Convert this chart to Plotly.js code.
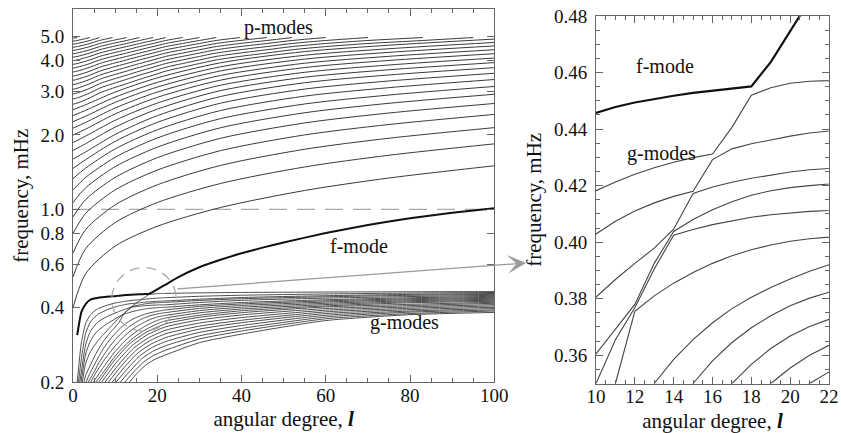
<!DOCTYPE html>
<html>
<head>
<meta charset="utf-8">
<script src="https://cdn.plot.ly/plotly-3.0.1.min.js"></script>
<style>html,body{margin:0;padding:0;background:#fff;}#chart{width:841px;height:433px;}</style>
</head>
<body>
<div id="chart"></div>
<script>
// ---------- p-modes that reach l = 100 (lowest order first) ----------
const pDeg = [0, 3, 10, 20, 35, 55, 75, 100];
const pFreqFull = [
  [0.400,0.549,0.710,0.854,1.017,1.192,1.339,1.500],
  [0.533,0.693,0.884,1.065,1.272,1.484,1.655,1.840],
  [0.666,0.828,1.042,1.256,1.505,1.750,1.939,2.140],
  [0.799,0.963,1.198,1.441,1.727,2.000,2.203,2.420],
  [0.932,1.095,1.346,1.617,1.937,2.236,2.452,2.680],
  [1.065,1.222,1.488,1.784,2.137,2.458,2.684,2.920],
  [1.198,1.346,1.623,1.943,2.326,2.667,2.899,3.140],
  [1.331,1.468,1.755,2.097,2.509,2.869,3.105,3.350],
  [1.464,1.588,1.883,2.247,2.687,3.064,3.304,3.550],
  [1.597,1.706,2.008,2.392,2.859,3.251,3.494,3.740],
  [1.730,1.842,2.150,2.542,3.020,3.421,3.668,3.920],
  [1.863,1.977,2.291,2.689,3.175,3.582,3.834,4.090],
  [1.996,2.111,2.431,2.836,3.329,3.744,4.000,4.260],
  [2.129,2.246,2.569,2.979,3.478,3.898,4.157,4.420],
  [2.262,2.380,2.707,3.122,3.627,4.051,4.313,4.580],
  [2.395,2.514,2.843,3.261,3.770,4.198,4.461,4.730],
  [2.528,2.648,2.980,3.401,3.913,4.344,4.610,4.880]
];
// ---------- p-modes that stop at the cut-off (~5 mHz) ----------
const pEndDeg = [0, 1, 4, 6.3, 9.4, 12.7, 15.8, 19, 22, 26, 30, 34, 39.6, 46, 52, 60, 70, 83, 95];
const pFreqEnd = [
  [4.922,4.950],
  [4.789,4.817,4.950],
  [4.656,4.684,4.817,4.950],
  [4.523,4.551,4.684,4.817,4.950],
  [4.390,4.418,4.551,4.684,4.817,4.950],
  [4.257,4.285,4.418,4.551,4.684,4.817,4.950],
  [4.124,4.152,4.285,4.418,4.551,4.684,4.817,4.950],
  [3.991,4.019,4.152,4.285,4.418,4.551,4.684,4.817,4.950],
  [3.858,3.886,4.019,4.152,4.285,4.418,4.551,4.684,4.817,4.950],
  [3.725,3.753,3.886,4.019,4.152,4.285,4.418,4.551,4.684,4.817,4.950],
  [3.592,3.620,3.753,3.886,4.019,4.152,4.285,4.418,4.551,4.684,4.817,4.950],
  [3.459,3.487,3.620,3.753,3.886,4.019,4.152,4.285,4.418,4.551,4.684,4.817,4.950],
  [3.326,3.354,3.487,3.620,3.753,3.886,4.019,4.152,4.285,4.418,4.551,4.684,4.817,4.950],
  [3.193,3.221,3.354,3.487,3.620,3.753,3.886,4.019,4.152,4.285,4.418,4.551,4.684,4.817,4.950],
  [3.060,3.088,3.221,3.354,3.487,3.620,3.753,3.886,4.019,4.152,4.285,4.418,4.551,4.684,4.817,4.950],
  [2.927,2.955,3.088,3.221,3.354,3.487,3.620,3.753,3.886,4.019,4.152,4.285,4.418,4.551,4.684,4.817,4.950],
  [2.794,2.822,2.955,3.088,3.221,3.354,3.487,3.620,3.753,3.886,4.019,4.152,4.285,4.418,4.551,4.684,4.817,4.950],
  [2.661,2.689,2.822,2.955,3.088,3.221,3.354,3.487,3.620,3.753,3.886,4.019,4.152,4.285,4.418,4.551,4.684,4.817,4.950]
];
// ---------- f-mode (thick line) ----------
const fDeg  = [1,2,3,4,5,6,7,8,9,10,11,12,13,14,15,16,17,18,19,20,21,22,25,30,35,40,45,50,60,70,80,90,100];
const fFreq = [0.310,0.385,0.414,0.430,0.436,0.439,0.441,0.443,0.4445,0.4457,0.4478,0.4494,0.4507,0.4518,0.4528,0.4536,0.4543,0.4551,0.4637,0.4745,0.4855,0.4965,0.532,0.583,0.625,0.664,0.700,0.735,0.802,0.864,0.921,0.968,1.010];
// ---------- g-modes (top to bottom) ----------
const gDeg = [
  [1.0,2,3,4,5,6,8,10,11,12,13,14,15,16,17,18,19,20,21,22,30,40,60,80,100],
  [1.3,2,3,4,5,6,8,10,11,12,13,14,15,16,17,18,19,20,21,22,30,40,60,80,100],
  [1.6,2,3,4,5,6,8,10,11,12,13,14,15,16,17,18,19,20,21,22,30,40,60,80,100],
  [1.9,3,4,5,6,8,10,11,12,13,14,15,16,17,18,19,20,21,22,30,40,60,80,100],
  [2.2,3,4,5,6,7,8,9,10,11,12,13,14,15,16,17,18,19,20,21,22,30,40,60,80,100],
  [2.6,3,4,5,6,7,8,9,10,11,12,13,14,15,16,17,18,19,20,21,22,30,40,60,80,100],
  [3.1,4,5,6,7,8,9,10,11,12,13,14,15,16,17,18,19,20,21,22,30,40,60,80,100],
  [3.6,5,6,7,8,9,10,11,12,13,14,15,16,17,18,19,20,21,22,30,40,60,80,100],
  [4.2,5,6,7,8,9,10,11,12,13,14,15,16,17,18,19,20,21,22,30,40,60,80,100],
  [4.8,6,7,8,9,10,11,12,13,14,15,16,17,18,19,20,21,22,30,40,60,80,100],
  [5.4,7,8,10,12,14,16,18,20,21,22,30,40,60,80,100],
  [6.1,9.7,13.5,17.4,22,30,40,60,80,100],
  [6.8,10.3,14.0,17.6,22,30,40,60,80,100],
  [7.6,11.0,14.4,17.9,22,30,40,60,80,100],
  [8.4,11.6,14.9,18.1,22,30,40,60,80,100],
  [9.3,12.3,15.3,18.4,22,30,40,60,80,100],
  [10.2,13.0,15.8,18.6,22,30,40,60,80,100],
  [11.2,13.8,16.3,18.9,22,30,40,60,80,100],
  [12.3,14.5,16.8,19.2,22,30,40,60,80,100],
  [13.4,15.2,17.3,19.45,22,30,40,60,80,100]
];
const gFreq = [
  [0.200,0.290,0.345,0.372,0.387,0.397,0.409,0.4182,0.4213,0.4240,0.4263,0.4283,0.4299,0.4312,0.4406,0.4520,0.4546,0.4562,0.4569,0.4573,0.4595,0.4612,0.4630,0.4642,0.4650],
  [0.200,0.250,0.315,0.347,0.365,0.377,0.392,0.4029,0.4074,0.4110,0.4139,0.4162,0.4180,0.4292,0.4330,0.4348,0.4362,0.4375,0.4386,0.4394,0.4450,0.4495,0.4548,0.4585,0.4610],
  [0.200,0.222,0.283,0.318,0.337,0.351,0.368,0.3806,0.3868,0.3925,0.3979,0.4046,0.4172,0.4195,0.4212,0.4226,0.4238,0.4248,0.4256,0.4262,0.4330,0.4400,0.4475,0.4530,0.4570],
  [0.200,0.260,0.290,0.310,0.324,0.344,0.3605,0.3692,0.3780,0.3925,0.4038,0.4080,0.4115,0.4143,0.4166,0.4182,0.4193,0.4200,0.4206,0.4280,0.4350,0.4430,0.4490,0.4530],
  [0.200,0.238,0.263,0.280,0.295,0.309,0.322,0.336,0.350,0.3655,0.3768,0.3905,0.4025,0.4045,0.4062,0.4076,0.4088,0.4097,0.4104,0.4109,0.4112,0.4200,0.4285,0.4375,0.4440,0.4490],
  [0.200,0.213,0.232,0.252,0.271,0.289,0.305,0.320,0.334,0.350,0.3755,0.3810,0.3855,0.3893,0.3925,0.3952,0.3973,0.3990,0.4003,0.4012,0.4018,0.4110,0.4200,0.4310,0.4390,0.4450],
  [0.200,0.217,0.234,0.252,0.270,0.286,0.301,0.315,0.328,0.3395,0.350,0.3585,0.3655,0.3715,0.3765,0.3805,0.3840,0.3870,0.3897,0.3920,0.4050,0.4145,0.4265,0.4350,0.4410],
  [0.200,0.220,0.237,0.253,0.268,0.283,0.297,0.310,0.3215,0.332,0.3415,0.350,0.358,0.3645,0.3697,0.3740,0.3775,0.3802,0.3823,0.3975,0.4085,0.4220,0.4310,0.4370],
  [0.200,0.212,0.226,0.240,0.254,0.267,0.280,0.293,0.305,0.316,0.326,0.335,0.3428,0.350,0.3568,0.3624,0.3668,0.3702,0.3727,0.3895,0.4020,0.4170,0.4270,0.4330],
  [0.200,0.214,0.227,0.240,0.253,0.266,0.278,0.290,0.301,0.311,0.320,0.328,0.336,0.343,0.350,0.3555,0.3600,0.3635,0.3815,0.3955,0.4120,0.4230,0.4290],
  [0.200,0.217,0.229,0.255,0.278,0.299,0.317,0.3315,0.3445,0.350,0.3541,0.3730,0.3890,0.4070,0.4190,0.4250],
  [0.200,0.2434,0.2867,0.3185,0.3445,0.366,0.382,0.403,0.413,0.421],
  [0.200,0.2405,0.281,0.3107,0.335,0.357,0.374,0.397,0.408,0.417],
  [0.200,0.2374,0.2747,0.3021,0.3245,0.347,0.365,0.391,0.403,0.412],
  [0.200,0.2342,0.2684,0.2935,0.314,0.337,0.356,0.385,0.398,0.407],
  [0.200,0.2309,0.2618,0.2845,0.303,0.328,0.348,0.379,0.393,0.402],
  [0.200,0.2276,0.2552,0.2754,0.292,0.318,0.339,0.373,0.388,0.397],
  [0.200,0.2243,0.2486,0.2664,0.281,0.308,0.330,0.367,0.384,0.392],
  [0.200,0.2209,0.2417,0.257,0.2695,0.299,0.322,0.361,0.379,0.388],
  [0.200,0.2174,0.2348,0.2476,0.258,0.289,0.313,0.355,0.375,0.383]
];
// reference line at 1 mHz
const refDeg = [0, 100];
const refFreq = [1.0, 1.0];
// axis ticks
const leftTickVals = [0.2, 0.4, 0.6, 0.8, 1, 2, 3, 4, 5];
const leftTickText = ['0.2','0.4','0.6','0.8','1.0','2.0','3.0','4.0','5.0'];

const FONT = 'Liberation Serif, "Times New Roman", Times, serif';
const THIN = '#3a3a3a';
const traces = [];

traces.push({x: refDeg, y: refFreq, xaxis:'x', yaxis:'y', mode:'lines',
  line:{color:'#aaaaaa', width:1.3, dash:'18px,10px'}, hoverinfo:'skip'});

pFreqFull.forEach(row => traces.push({x: pDeg, y: row, xaxis:'x', yaxis:'y', mode:'lines',
  line:{color:THIN, width:1, shape:'spline', smoothing:0.8}, hoverinfo:'skip'}));
pFreqEnd.forEach(row => traces.push({x: pEndDeg.slice(0, row.length), y: row, xaxis:'x', yaxis:'y', mode:'lines',
  line:{color:THIN, width:1, shape:'spline', smoothing:0.8}, hoverinfo:'skip'}));

gDeg.forEach((l, i) => {
  traces.push({x: l, y: gFreq[i], xaxis:'x', yaxis:'y', mode:'lines',
    line:{color:THIN, width:0.9, shape:'spline', smoothing:0.6}, hoverinfo:'skip'});
  traces.push({x: l, y: gFreq[i], xaxis:'x2', yaxis:'y2', mode:'lines',
    line:{color:'#444', width:1.1}, hoverinfo:'skip'});
});
traces.push({x: fDeg, y: fFreq, xaxis:'x', yaxis:'y', mode:'lines',
  line:{color:'#111', width:2, shape:'spline', smoothing:0.5}, hoverinfo:'skip'});
traces.push({x: fDeg, y: fFreq, xaxis:'x2', yaxis:'y2', mode:'lines',
  line:{color:'#111', width:2.2}, hoverinfo:'skip'});

const AX = '#666';
const common = {
  ticks:'inside', ticklen:7, tickwidth:1, tickcolor:AX,
  showline:true, linecolor:AX, linewidth:1, mirror:'ticks',
  showgrid:false, zeroline:false, automargin:false,
  tickfont:{family:FONT, size:19, color:'#111'}
};
const titleFont = {family:FONT, size:21, color:'#111'};

// plot area in pixels: x 73..829, y 9..384
const W = 756, H = 375, L0 = 73, T0 = 9;
const px = v => (v - L0) / W;
const py = v => (T0 + H - v) / H;
const label = (x, y, text) => ({xref:'paper', yref:'paper', x:px(x), y:py(y), text:text,
  xanchor:'center', yanchor:'middle', showarrow:false, font:{family:FONT, size:20, color:'#111'}});

const layout = {
  width:841, height:433,
  margin:{l:73, r:12, t:9, b:49, pad:0},
  paper_bgcolor:'#fff', plot_bgcolor:'#fff',
  showlegend:false, hovermode:false,
  font:{family:FONT, size:19, color:'#111'},
  xaxis: Object.assign({}, common, {
    domain:[0, 0.5573], range:[0,100], tick0:0, dtick:20, anchor:'y',
    ticklabelstandoff:-4,
    minor:{dtick:5, ticks:'inside', ticklen:4, tickcolor:AX, showgrid:false},
    title:{text:'angular degree, <b><i>l</i></b>', font:titleFont, standoff:6}
  }),
  yaxis: Object.assign({}, common, {
    domain:[0.0048, 0.9992], type:'log', range:[Math.log10(0.2), Math.log10(6.44)],
    tickmode:'array', tickvals:leftTickVals, ticktext:leftTickText, anchor:'x',
    ticklabelstandoff:4,
    title:{text:'frequency, mHz', font:titleFont, standoff:6}
  }),
  xaxis2: Object.assign({}, common, {
    domain:[0.6918, 1], range:[10,22], tick0:10, dtick:2, anchor:'y2',
    ticklabelstandoff:-4,
    minor:{dtick:0.5, ticks:'inside', ticklen:4, tickcolor:AX, showgrid:false},
    title:{text:'angular degree, <b><i>l</i></b>', font:titleFont, standoff:6}
  }),
  yaxis2: Object.assign({}, common, {
    domain:[0.0013, 0.9813], range:[0.35,0.48], tick0:0.36, dtick:0.02, tickformat:'.2f', anchor:'x2',
    minor:{dtick:0.005, ticks:'inside', ticklen:4, tickcolor:AX, showgrid:false},
    ticklabelstandoff:4,
    title:{text:'frequency, mHz', font:titleFont, standoff:6}
  }),
  shapes:[
    {type:'circle', xref:'x', yref:'y', x0:9.2, x1:24.5, y0:0.322, y1:0.582,
     line:{color:'#aaaaaa', width:1.3, dash:'10px,7px'}}
  ],
  annotations:[
    label(278, 27, 'p-modes'),
    label(359, 246, 'f-mode'),
    label(404, 322, 'g-modes'),
    label(665, 66, 'f-mode'),
    label(661, 153, 'g-modes'),
    {xref:'paper', yref:'paper', x:px(526), y:py(263), ax:-350, ay:26, text:'', showarrow:true,
     arrowhead:3, arrowsize:2.6, arrowwidth:1.2, arrowcolor:'#999999', standoff:0, startstandoff:0}
  ]
};

Plotly.newPlot('chart', traces, layout, {displayModeBar:false, staticPlot:true});
</script>
</body>
</html>
